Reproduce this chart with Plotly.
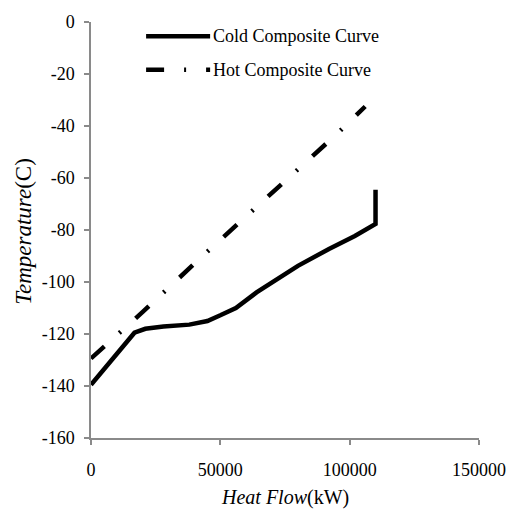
import plotly.graph_objects as go

# Composite curves: heat flow (kW) vs temperature (C)
cold_q = [0, 16800, 21000, 28000, 38000, 45000, 50000, 56000, 64000, 72000,
          80000, 92000, 102000, 110000, 110000]
cold_t = [-139.5, -119.5, -118.0, -117.1, -116.4, -115.0, -112.8, -110.0, -104.0,
          -99.0, -93.8, -87.3, -82.3, -77.7, -64.5]

hot_q = [0, 20000, 44000, 78400, 94800, 106000]
hot_t = [-129.4, -111.5, -89.2, -58.2, -43.3, -32.5]

x_ticks = [0, 50000, 100000, 150000]
y_ticks = [0, -20, -40, -60, -80, -100, -120, -140, -160]

series_names = ["Cold Composite Curve", "Hot Composite Curve"]

FONT = "Liberation Serif"
HOT_DASH = "18px,20px,2px,20px"
LW = 4.5

fig = go.Figure()
fig.add_trace(go.Scatter(x=cold_q, y=cold_t, mode="lines", name=series_names[0],
                         line=dict(color="black", width=LW)))
fig.add_trace(go.Scatter(x=hot_q, y=hot_t, mode="lines", name=series_names[1],
                         line=dict(color="black", width=LW, dash=HOT_DASH)))

axis_common = dict(
    showline=True, linecolor="#8a8a8a", linewidth=1.5,
    ticks="outside", ticklen=5, tickcolor="#8a8a8a", tickwidth=1.5,
    showgrid=False, zeroline=False,
    tickfont=dict(family=FONT, size=18, color="black"),
)

fig.update_xaxes(range=[0, 150000], tickvals=x_ticks,
                 ticktext=[str(v) for v in x_ticks],
                 ticklabelstandoff=10, **axis_common)
fig.update_yaxes(range=[-160, 0], tickvals=y_ticks,
                 ticktext=[str(v) for v in y_ticks],
                 ticklabelstandoff=6, **axis_common)

# Legend drawn as sample lines plus labels in the upper-left corner
legend_rows = [(0.966, None), (0.885, HOT_DASH)]
for (ly, dash), name in zip(legend_rows, series_names):
    line = dict(color="black", width=LW)
    if dash:
        line["dash"] = dash
    fig.add_shape(type="line", xref="paper", yref="paper",
                  x0=0.142, x1=0.307, y0=ly, y1=ly, line=line)
    fig.add_annotation(xref="paper", yref="paper", x=0.309, y=ly,
                       xanchor="left", yanchor="middle", showarrow=False,
                       text=name, font=dict(family=FONT, size=18, color="black"))

# Axis titles
fig.add_annotation(xref="paper", yref="paper", x=0.5, y=-0.1435,
                   xanchor="center", yanchor="middle", showarrow=False,
                   text="<i>Heat Flow</i>(kW)",
                   font=dict(family=FONT, size=20, color="black"))
fig.add_annotation(xref="paper", yref="paper", x=-0.173, y=0.498,
                   xanchor="center", yanchor="middle", showarrow=False,
                   textangle=-90, text="<i>Temperature</i>(C)",
                   font=dict(family=FONT, size=23, color="black"))

fig.update_layout(
    width=518, height=510,
    margin=dict(l=91, r=33, t=20, b=72),
    paper_bgcolor="white", plot_bgcolor="white",
    showlegend=False,
)

fig.write_html("out.html")
